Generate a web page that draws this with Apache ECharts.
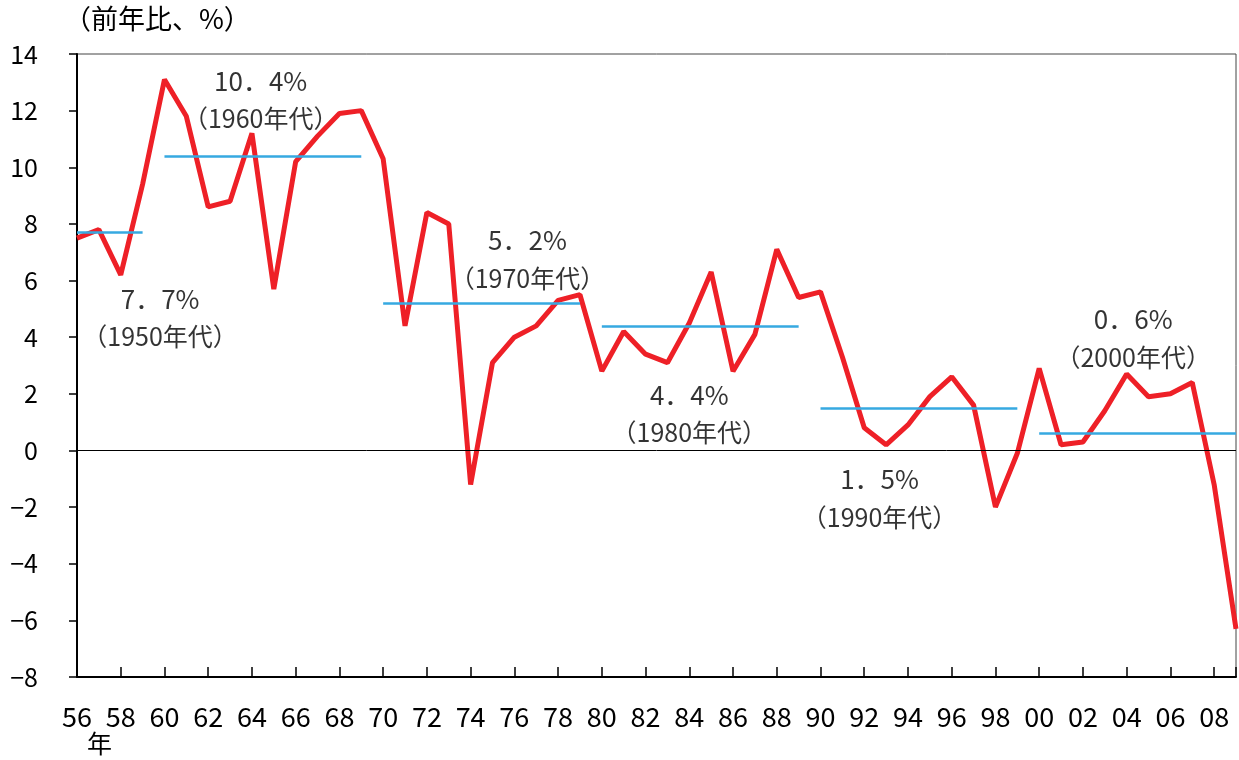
<!DOCTYPE html>
<html>
<head>
<meta charset="utf-8">
<script src="https://cdn.jsdelivr.net/npm/echarts@6/dist/echarts.min.js"></script>
<style>
  html, body { margin: 0; padding: 0; background: #fff; }
  #main { width: 1239px; height: 760px; }
</style>
</head>
<body>
<div id="main"></div>
<script>
// 実質GDP成長率（前年比、%）
var years = [];
for (var y = 1956; y <= 2009; y++) years.push(y);
var growth = [7.5, 7.8, 6.2, 9.4, 13.1, 11.8, 8.6, 8.8, 11.2, 5.7,
              10.2, 11.1, 11.9, 12.0, 10.3, 4.4, 8.4, 8.0, -1.2, 3.1,
              4.0, 4.4, 5.3, 5.5, 2.8, 4.2, 3.4, 3.1, 4.5, 6.3,
              2.8, 4.1, 7.1, 5.4, 5.6, 3.3, 0.8, 0.2, 0.9, 1.9,
              2.6, 1.6, -2.0, -0.1, 2.9, 0.2, 0.3, 1.4, 2.7, 1.9,
              2.0, 2.4, -1.2, -6.3];

// 年代平均
var decadeNames = ['1950年代', '1960年代', '1970年代', '1980年代', '1990年代', '2000年代'];
var decadeAvg = [7.7, 10.4, 5.2, 4.4, 1.5, 0.6];
var decadeFrom = [1956, 1960, 1970, 1980, 1990, 2000];
var decadeTo = [1959, 1969, 1979, 1989, 1999, 2009];
var avgText = ['7．7%', '10．4%', '5．2%', '4．4%', '1．5%', '0．6%'];
// 注記の位置（データ座標）
var noteX = [1959.8, 1964.4, 1976.6, 1984.0, 1992.7, 2004.3];
var noteY = [4.68, 12.38, 6.76, 1.29, -1.68, 3.97];

var yTicks = { min: -8, max: 14, interval: 2 };

var myChart = echarts.init(document.getElementById('main'));
var font = '"Noto Sans CJK JP", "Noto Sans", sans-serif';

var lineData = years.map(function (yr, i) { return [yr, growth[i]]; });
var avgLines = decadeAvg.map(function (v, i) {
  return [{ coord: [decadeFrom[i], v] }, { coord: [decadeTo[i], v] }];
});
var notes = decadeAvg.map(function (v, i) {
  return { value: [noteX[i], noteY[i]], pct: avgText[i], name: decadeNames[i] };
});

var option = {
  animation: false,
  textStyle: { fontFamily: font },
  grid: { left: 77, right: 3, top: 54, bottom: 83, show: true, borderColor: '#444', borderWidth: 1 },
  graphic: [
    { type: 'text', left: 64, top: 5, style: { text: '（前年比、%）', font: '27px ' + font, fill: '#000' } },
    { type: 'text', left: 87, top: 731, style: { text: '年', font: '25px ' + font, fill: '#000' } }
  ],
  xAxis: {
    type: 'value',
    min: 1956,
    max: 2009,
    interval: 2,
    splitLine: { show: false },
    axisLine: { show: true, onZero: false, lineStyle: { color: '#000', width: 2 } },
    axisTick: { show: true, inside: true, length: 10, lineStyle: { color: '#000', width: 1.5 } },
    axisLabel: {
      margin: 26,
      fontSize: 27,
      color: '#000',
      fontFamily: font,
      formatter: function (v) { return v % 2 === 0 ? String(v).slice(2) : ''; }
    }
  },
  yAxis: {
    type: 'value',
    min: yTicks.min,
    max: yTicks.max,
    interval: yTicks.interval,
    splitLine: { show: false },
    axisLine: { show: true, lineStyle: { color: '#000', width: 2 } },
    axisTick: { show: true, length: 8, lineStyle: { color: '#000', width: 1.5 } },
    axisLabel: {
      margin: 39,
      fontSize: 25,
      color: '#000',
      fontFamily: font,
      formatter: function (v) { return v < 0 ? '−' + Math.abs(v) : String(v); }
    }
  },
  series: [
    {
      type: 'line',
      data: lineData,
      symbol: 'none',
      lineStyle: { color: '#ee2027', width: 5 },
      z: 3,
      markLine: {
        silent: true,
        symbol: 'none',
        label: { show: false },
        lineStyle: { color: '#000', width: 1, type: 'solid' },
        data: [{ yAxis: 0 }]
      }
    },
    {
      type: 'line',
      data: [],
      z: 4,
      markLine: {
        silent: true,
        symbol: 'none',
        label: { show: false },
        lineStyle: { color: '#36a9e1', width: 2.5, type: 'solid' },
        data: avgLines
      }
    },
    {
      type: 'scatter',
      data: notes,
      symbolSize: 0,
      z: 5,
      label: {
        show: true,
        position: 'inside',
        color: '#000',
        fontFamily: font,
        formatter: function (p) { return '{a|' + p.data.pct + '}\n{b|（' + p.data.name + '）}'; },
        rich: {
          a: { fontSize: 26, lineHeight: 38, fontFamily: font, color: '#000' },
          b: { fontSize: 25, lineHeight: 38, fontFamily: font, color: '#000' }
        }
      }
    }
  ]
};

myChart.setOption(option);
</script>
</body>
</html>
